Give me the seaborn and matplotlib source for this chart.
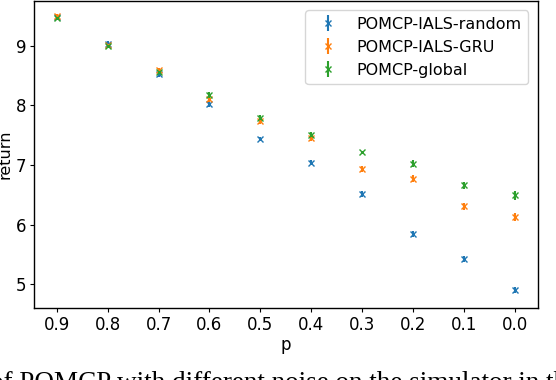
import seaborn as sns
import matplotlib.pyplot as plt

# values
p_values = [0.9, 0.8, 0.7, 0.6, 0.5, 0.4, 0.3, 0.2, 0.1, 0.0]
random_mean = [9.47, 9.03, 8.52, 8.02, 7.43, 7.04, 6.52, 5.85, 5.42, 4.91]
random_err = [0.04, 0.05, 0.04, 0.05, 0.03, 0.04, 0.05, 0.05, 0.05, 0.05]
gru_mean = [9.49, 9.01, 8.59, 8.10, 7.73, 7.45, 6.93, 6.77, 6.31, 6.13]
gru_err = [0.04, 0.04, 0.04, 0.05, 0.05, 0.05, 0.05, 0.06, 0.06, 0.07]
global_mean = [9.46, 9.00, 8.56, 8.17, 7.79, 7.50, 7.21, 7.02, 6.66, 6.49]
global_err = [0.04, 0.04, 0.05, 0.05, 0.04, 0.05, 0.03, 0.06, 0.06, 0.07]
labels = ['POMCP-IALS-random', 'POMCP-IALS-GRU', 'POMCP-global']
caption = 'of POMCP with different noise on the simulator in the different settings'

sns.set_style("ticks", {"axes.edgecolor": "black", "text.color": "black",
                        "axes.labelcolor": "black", "xtick.color": "black",
                        "ytick.color": "black"})
plt.rcParams['font.family'] = ['DejaVu Sans']
colors = sns.color_palette("tab10", 3)

fig = plt.figure(figsize=(5.56, 3.80), dpi=100)
ax = fig.add_axes([0.061, 0.189, 0.906, 0.809])

series = [(random_mean, random_err), (gru_mean, gru_err), (global_mean, global_err)]
for (mean, err), lab, col in zip(series, labels, colors):
    ax.errorbar(p_values, mean, yerr=err, fmt='x', color=col, label=lab,
                markersize=5, markeredgewidth=1.0, elinewidth=1.5, capsize=0)

ax.set_xticks(p_values)
ax.set_xticklabels([f'{p:.1f}' for p in p_values])
ax.set_yticks([5, 6, 7, 8, 9])
ax.set_xlim(0.945, -0.045)
ax.set_ylim(4.6, 9.75)
ax.tick_params(labelsize=12, length=2.8, width=0.8, pad=2.5)
ax.set_xlabel('p', fontsize=12, labelpad=2)
ax.set_ylabel('return', fontsize=11.5)
ax.yaxis.set_label_coords(-0.042, 0.5)
for s in ax.spines.values():
    s.set_linewidth(1.0)

ax.legend(loc='upper right', fontsize=11.5, frameon=True, borderaxespad=0.6)

fig.text(-0.018, -0.026, caption, family=['Liberation Serif'], fontsize=19.5,
         va='baseline', ha='left')

fig.savefig('out.png', dpi=100)
